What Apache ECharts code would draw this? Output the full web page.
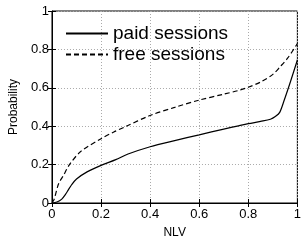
<!DOCTYPE html>
<html>
<head>
<meta charset="utf-8">
<script src="https://cdn.jsdelivr.net/npm/echarts@6/dist/echarts.min.js"></script>
<style>
  html, body { margin: 0; padding: 0; background: #fff; }
  #chart { width: 304px; height: 244px; }
</style>
</head>
<body>
<div id="chart"></div>
<script>
// NLV values for each curve
const paidX = [0, 0.02, 0.04, 0.055, 0.066, 0.08, 0.1, 0.143, 0.2, 0.26, 0.31, 0.4, 0.5, 0.6, 0.7, 0.76, 0.8, 0.85, 0.89, 0.91, 0.928, 0.947, 0.973, 1.0];
const paidY = [0, 0.005, 0.02, 0.045, 0.067, 0.095, 0.125, 0.162, 0.196, 0.226, 0.255, 0.293, 0.325, 0.355, 0.385, 0.402, 0.413, 0.425, 0.436, 0.45, 0.472, 0.538, 0.637, 0.745];
const freeX = [0, 0.008, 0.027, 0.046, 0.072, 0.117, 0.2, 0.252, 0.3, 0.4, 0.5, 0.6, 0.7, 0.76, 0.8, 0.85, 0.9, 0.93, 0.96, 1.0];
const freeY = [0, 0.016, 0.1, 0.142, 0.201, 0.268, 0.335, 0.37, 0.398, 0.456, 0.498, 0.536, 0.567, 0.586, 0.603, 0.63, 0.67, 0.71, 0.754, 0.83];
const seriesNames = ['paid sessions', 'free sessions'];

const font = 'Liberation Sans, Arial, Helvetica, sans-serif';

function pairs(xs, ys) {
    return xs.map((x, i) => [x, ys[i]]);
}

let myChart = echarts.init(document.getElementById('chart'));
myChart.setOption({
    animation: false,
    textStyle: { fontFamily: font },
    grid: {
        left: 43, right: 2, top: 11, bottom: 34,
        show: true, borderColor: '#000', borderWidth: 1
    },
    legend: {
        orient: 'vertical',
        left: 60, top: 19,
        itemWidth: 42, itemHeight: 14, itemGap: 2,
        itemStyle: { color: 'transparent', borderWidth: 0 },
        textStyle: { fontSize: 19, color: '#000', fontFamily: font },
        data: seriesNames
    },
    xAxis: [
        {
            type: 'value', min: 0, max: 1, interval: 0.2,
            name: 'NLV', nameLocation: 'middle', nameGap: 24,
            nameTextStyle: { fontSize: 12, color: '#000' },
            axisLine: { lineStyle: { color: '#000' } },
            axisTick: { inside: true, length: 4, lineStyle: { color: '#000' } },
            axisLabel: { fontSize: 13, color: '#000', margin: 5,
                formatter: v => String(+v.toFixed(1)) },
            splitLine: { show: true, lineStyle: { color: '#aaa', type: [1, 2] } }
        },
        {
            type: 'value', min: 0, max: 1, interval: 0.2, position: 'top',
            axisLine: { show: false },
            axisTick: { inside: true, length: 4, lineStyle: { color: '#000' } },
            axisLabel: { show: false }, splitLine: { show: false }
        }
    ],
    yAxis: [
        {
            type: 'value', min: 0, max: 1, interval: 0.2,
            name: 'Probability', nameLocation: 'middle', nameGap: 31,
            nameTextStyle: { fontSize: 12, color: '#000' },
            axisLine: { show: true, lineStyle: { color: '#000' } },
            axisTick: { show: true, inside: true, length: 4, lineStyle: { color: '#000' } },
            axisLabel: { fontSize: 13, color: '#000', margin: 3,
                formatter: v => String(+v.toFixed(1)) },
            splitLine: { show: true, lineStyle: { color: '#aaa', type: [1, 2] } }
        },
        {
            type: 'value', min: 0, max: 1, interval: 0.2, position: 'right',
            axisLine: { show: false },
            axisTick: { show: true, inside: true, length: 4, lineStyle: { color: '#000' } },
            axisLabel: { show: false }, splitLine: { show: false }
        }
    ],
    series: [
        {
            name: seriesNames[0],
            type: 'line',
            data: pairs(paidX, paidY),
            symbol: 'none',
            smooth: 0.3,
            lineStyle: { color: '#000', width: 1.2, type: 'solid' },
            itemStyle: { color: '#000' }
        },
        {
            name: seriesNames[1],
            type: 'line',
            data: pairs(freeX, freeY),
            symbol: 'none',
            smooth: 0.3,
            lineStyle: { color: '#000', width: 1.2, type: [5, 3] },
            itemStyle: { color: '#000' }
        }
    ]
});
</script>
</body>
</html>
